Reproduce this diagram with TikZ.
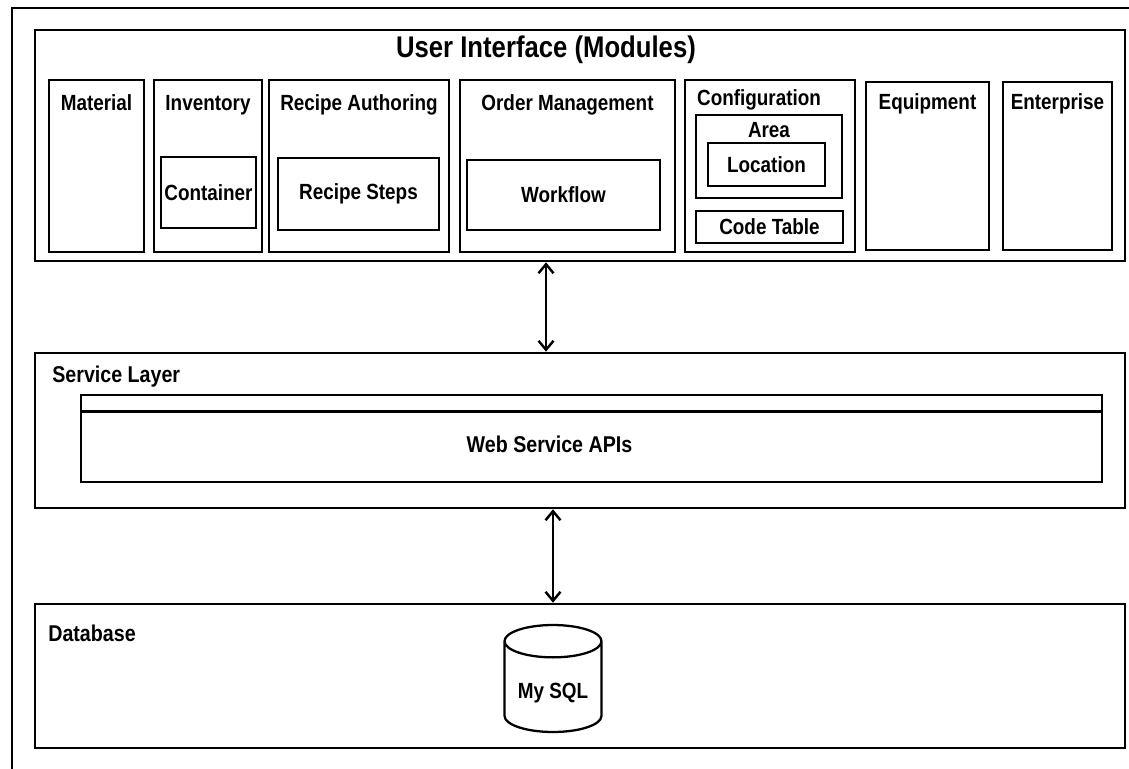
\documentclass[tikz,border=0pt]{standalone}
\usepackage{fontspec}
\setmainfont[FakeStretch=0.86]{Liberation Sans}
\usetikzlibrary{shapes.geometric,arrows.meta,positioning}

\newcommand{\modfont}{\fontsize{12.5}{15}\selectfont\bfseries}
\newcommand{\layfont}{\fontsize{13}{15}\selectfont\bfseries}

\begin{document}
\begin{tikzpicture}[
  x=0.02cm, y=-0.02cm,
  layer/.style={draw, line width=1.5pt, minimum width=21.8cm, inner sep=0pt},
  module/.style={draw, line width=1.5pt, inner sep=0pt},
  modname/.style={anchor=north, inner sep=0pt, yshift=-0.32cm, font=\modfont},
  part/.style={draw, line width=1.5pt, inner sep=0pt, font=\modfont},
  layname/.style={anchor=west, inner sep=0pt, font=\layfont},
  link/.style={line width=1.4pt,
    {Straight Barb[length=1.8mm,width=3mm]}-{Straight Barb[length=1.8mm,width=3mm]}}
]
\clip (0,0) rectangle (1129,768);
\draw[line width=1.1pt] (12,8) rectangle (1160,800);

% user interface layer
\node[layer, minimum height=4.62cm] (ui) at (580,145.5) {};
\node[inner sep=0pt, font=\fontsize{17}{20}\selectfont\bfseries] (title) at (546,50) {User Interface (Modules)};

\node[module, minimum width=1.9cm, minimum height=3.44cm, label={[modname]north:Material}] (material) at (96.5,166) {};
\node[module, minimum width=2.16cm, minimum height=3.44cm, label={[modname]north:Inventory}] (inventory) at (208,166) {};
\node[part, minimum width=1.9cm, minimum height=1.42cm] (container) at (208.5,192.5) {Container};
\node[module, minimum width=3.6cm, minimum height=3.44cm, label={[modname]north:Recipe Authoring}] (recipe) at (359,166) {};
\node[part, minimum width=3.22cm, minimum height=1.44cm] (steps) at (358.5,194) {Recipe Steps};
\node[module, minimum width=4.3cm, minimum height=3.44cm, label={[modname]north:Order Management}] (order) at (567.5,166) {};
\node[part, minimum width=3.86cm, minimum height=1.4cm] (workflow) at (563.5,195) {Workflow};
\node[module, minimum width=3.4cm, minimum height=3.44cm, label={[modname, yshift=0.1cm, xshift=-0.22cm]north:Configuration}] (config) at (770,166) {};
\node[module, minimum width=2.92cm, minimum height=1.66cm, label={[modname, yshift=0.16cm]north:Area}] (area) at (769,156.5) {};
\node[part, minimum width=2.34cm, minimum height=0.86cm] (location) at (766.5,164.5) {Location};
\node[part, minimum width=2.94cm, minimum height=0.64cm] (codetable) at (769.5,227) {Code Table};
\node[module, minimum width=2.46cm, minimum height=3.36cm, label={[modname, yshift=0.06cm]north:Equipment}] (equipment) at (927.5,166) {};
\node[module, minimum width=2.18cm, minimum height=3.36cm, label={[modname, yshift=0.06cm]north:Enterprise}] (enterprise) at (1057.5,166) {};

% service layer
\node[layer, minimum height=3.1cm] (service) at (580,430.5) {};
\node[layname] (servicename) at (52,377) {Service Layer};
\node[module, minimum width=20.42cm, minimum height=1.74cm] (api) at (591.5,438.5) {};
\draw[line width=1.5pt] ([yshift=-0.36cm]api.north west) -- ([yshift=-0.36cm]api.north east);
\node[inner sep=0pt, font=\layfont] (apiname) at (549.5,444) {Web Service APIs};

% database layer
\node[layer, minimum height=2.88cm] (db) at (580,676) {};
\node[layname] (dbname) at (48,633) {Database};
\node[cylinder, shape border rotate=90, draw, line width=1.3pt, aspect=0.46,
  minimum width=1.94cm, minimum height=2.14cm, inner sep=0pt, anchor=shape center,
  text height=0.56cm, font=\modfont] (mysql) at (553,678.5) {My SQL};

% connectors
\draw[link] (title |- ui.south) -- (title |- service.north);
\draw[link] (mysql |- service.south) -- (mysql |- db.north);
\end{tikzpicture}
\end{document}
